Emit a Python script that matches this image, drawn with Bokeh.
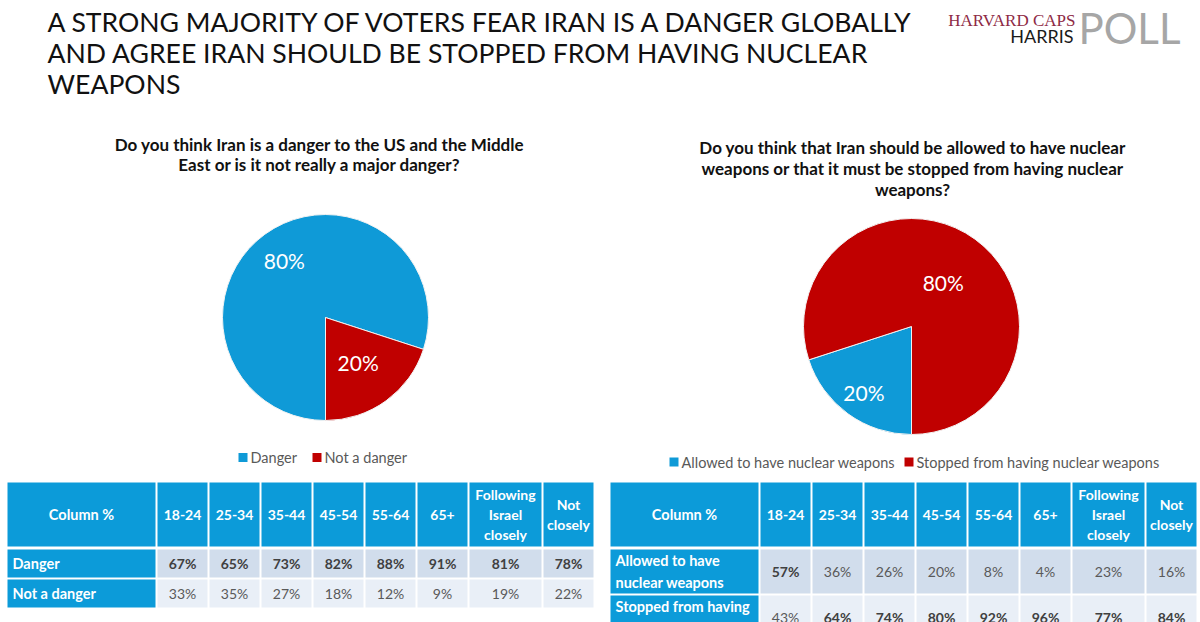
import numpy as np
from bokeh.plotting import figure
from bokeh.models import Range1d
from bokeh.core.properties import value
from bokeh.embed import file_html
from bokeh.resources import INLINE

# ---------------- data ----------------
TITLE_LINES = [
    "A STRONG MAJORITY OF VOTERS FEAR IRAN IS A DANGER GLOBALLY",
    "AND AGREE IRAN SHOULD BE STOPPED FROM HAVING NUCLEAR",
    "WEAPONS",
]
Q1_LINES = [
    "Do you think Iran is a danger to the US and the Middle",
    "East or is it not really a major danger?",
]
Q2_LINES = [
    "Do you think that Iran should be allowed to have nuclear",
    "weapons or that it must be stopped from having nuclear",
    "weapons?",
]

PIE1_LABELS = ["Danger", "Not a danger"]
PIE1_VALUES = [80, 20]
PIE2_LABELS = ["Allowed to have nuclear weapons", "Stopped from having nuclear weapons"]
PIE2_VALUES = [20, 80]

COLUMNS = ["18-24", "25-34", "35-44", "45-54", "55-64", "65+",
           "Following\nIsrael\nclosely", "Not\nclosely"]
CORNER = "Column %"
T1_ROWS = ["Danger", "Not a danger"]
T1_DANGER = [67, 65, 73, 82, 88, 91, 81, 78]
T1_NOT_DANGER = [33, 35, 27, 18, 12, 9, 19, 22]
T2_ROWS = ["Allowed to have\nnuclear weapons", "Stopped from having\nnuclear weapons"]
T2_ALLOWED = [57, 36, 26, 20, 8, 4, 23, 16]
T2_STOPPED = [43, 64, 74, 80, 92, 96, 77, 84]

# ---------------- styles / layout ----------------
FONT = "Lato"
BLUE = "#0F9AD7"
RED = "#C00000"
HEAD_BLUE = "#0C9BD9"
ROW_BG = ["#D1DDEC", "#E9EFF7"]
DARK = "#404040"
MID = "#595959"

W, H = 1200, 622
p = figure(width=W, height=H, x_range=Range1d(0, W), y_range=Range1d(0, H),
           output_backend="svg", toolbar_location=None, min_border=0)
p.xaxis.visible = False
p.yaxis.visible = False
p.grid.visible = False
p.outline_line_color = None
p.background_fill_color = "white"
p.border_fill_color = "white"


def Y(y):
    return H - np.asarray(y, dtype=float)


def txt(x, y, s, size, color="#000000", style="normal", align="left",
        baseline="middle", font=FONT, line_height=1.2):
    p.text(x=[x], y=[float(Y(y))], text=[s], text_font=value(font),
           text_font_size=f"{size}px", text_color=color, text_font_style=style,
           text_align=align, text_baseline=baseline, text_line_height=line_height)


# ---------------- title & logo ----------------
for i, line in enumerate(TITLE_LINES):
    txt(47, 21 + 31.3 * i, line, 26.6, color="#111111")

txt(1075, 19.5, "HARVARD CAPS", 17, color="#8E2A45", align="right", font="Liberation Serif")
txt(1073, 35.5, "HARRIS", 18, color="#1A1A1A", align="right")
txt(1078, 27.5, "POLL", 42, color="#A6A6A6", align="left")

# ---------------- question titles ----------------
for i, line in enumerate(Q1_LINES):
    txt(319, 144 + 20 * i, line, 17, color="#111111", style="bold", align="center")
for i, line in enumerate(Q2_LINES):
    txt(912, 147 + 21 * i, line, 17, color="#111111", style="bold", align="center")


# ---------------- pies ----------------
def pie(cx, cy, r, values, colors, label_r):
    v = np.asarray(values, dtype=float)
    frac = v / v.sum()
    cum = np.concatenate([[0.0], np.cumsum(frac)])
    a0 = -np.pi / 2 - 2 * np.pi * cum[:-1]   # start at 6 o'clock, go clockwise
    a1 = -np.pi / 2 - 2 * np.pi * cum[1:]
    p.wedge(x=[cx] * len(v), y=[float(Y(cy))] * len(v), radius=r,
            start_angle=a1, end_angle=a0, fill_color=colors,
            line_color="#F2F2F2", line_width=1)
    mid = (a0 + a1) / 2
    lr = np.asarray(label_r) * r
    lx = cx + lr * np.cos(mid)
    ly = float(Y(cy)) + lr * np.sin(mid)
    p.text(x=lx, y=ly, text=[f"{int(x)}%" for x in v], text_font=value(FONT),
           text_font_size="21px", text_color="white", text_align="center",
           text_baseline="middle")


pie(325, 317, 103, PIE1_VALUES, [BLUE, RED], [0.68, 0.54])
pie(911, 326, 108, PIE2_VALUES, [BLUE, RED], [0.75, 0.50])


# ---------------- legends ----------------
def legend(xs, y, labels, colors):
    for x, lab, c in zip(xs, labels, colors):
        p.rect(x=[x + 4.5], y=[float(Y(y))], width=9, height=9, fill_color=c, line_color=None)
        txt(x + 12, y, lab, 14.5, color=MID)


legend([238, 312], 457, PIE1_LABELS, [BLUE, RED])
legend([669, 904], 461.5, PIE2_LABELS, [BLUE, RED])


# ---------------- tables ----------------
LABEL_W = 148
COL_W = [50, 50, 50, 50, 50, 50, 72, 50]
GAP = 2


def table(x0, top, head_h, row_h, row_labels, rows):
    lefts = [x0]
    widths = [LABEL_W] + COL_W
    for w in widths[:-1]:
        lefts.append(lefts[-1] + w + GAP)
    rights = [l + w for l, w in zip(lefts, widths)]
    # header
    p.quad(left=lefts, right=rights, top=[float(Y(top))] * len(lefts),
           bottom=[float(Y(top + head_h))] * len(lefts), fill_color=HEAD_BLUE, line_color=None)
    hc = top + head_h / 2
    txt((lefts[0] + rights[0]) / 2, hc, CORNER, 14.5, color="white", style="bold",
        align="center")
    for l, r, c in zip(lefts[1:], rights[1:], COLUMNS):
        txt((l + r) / 2, hc, c, 14, color="white", style="bold", align="center",
            line_height=1.2)
    # body
    y = top + head_h + 3
    for ri, (lab, vals) in enumerate(zip(row_labels, rows)):
        t, b = y, y + row_h
        p.quad(left=[lefts[0]], right=[rights[0]], top=[float(Y(t))], bottom=[float(Y(b))],
               fill_color=HEAD_BLUE, line_color=None)
        p.quad(left=lefts[1:], right=rights[1:], top=[float(Y(t))] * len(vals),
               bottom=[float(Y(b))] * len(vals), fill_color=ROW_BG[ri], line_color=None)
        cy = (t + b) / 2
        txt(lefts[0] + 5, cy, lab, 14.5, color="white", style="bold", line_height=1.35)
        for l, r, v in zip(lefts[1:], rights[1:], vals):
            strong = v > 50
            txt((l + r) / 2, cy, f"{v}%", 14, color=DARK if strong else MID,
                style="bold" if strong else "normal", align="center")
        y = b + GAP


table(7, 482, 64, 28, T1_ROWS, [T1_DANGER, T1_NOT_DANGER])
table(610, 482, 64, 44, T2_ROWS, [T2_ALLOWED, T2_STOPPED])

open("out.html", "w").write(file_html(p, INLINE))
